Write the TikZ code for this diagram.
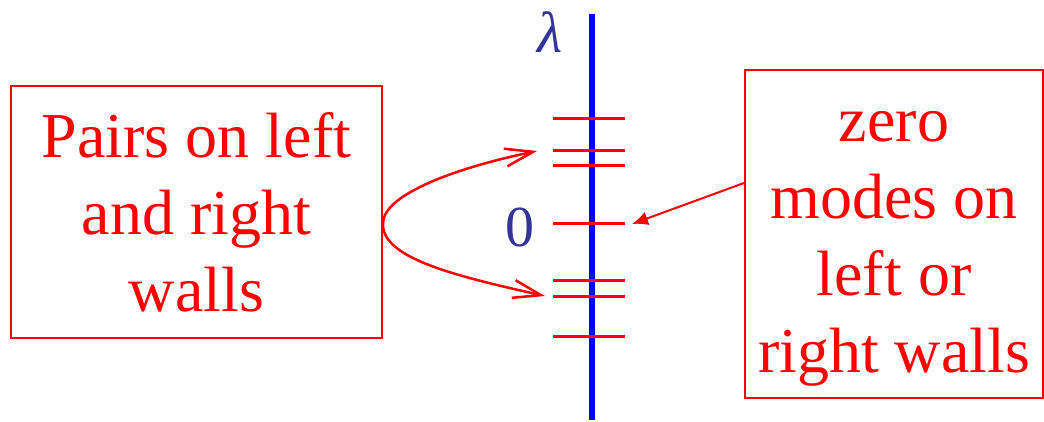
\documentclass[tikz,border=0pt]{standalone}
\usepackage{fontspec}
\setmainfont{Liberation Serif}
\usetikzlibrary{arrows.meta}
\definecolor{lamblue}{HTML}{333399}
\begin{document}
\begin{tikzpicture}[x=1pt, y=-1pt,
        every node/.style={font=\fontsize{64}{77}\selectfont},
        note/.style={draw=red, line width=2pt, text=red, align=center, inner sep=0pt},
        level/.style={draw=red, line width=3pt},
        axislbl/.style={text=lamblue, font=\fontsize{58}{60}\selectfont, inner sep=0pt}
    ]
        \useasboundingbox (0,0) rectangle (1044,422);
        \node[note, minimum width=371pt, minimum height=252pt] (pairs) at (196.5,212) {Pairs on left\\ and right\\ walls};
        \node[note, minimum width=298pt, minimum height=328pt, text height=290pt] (zero) at (894,234) {zero\\ modes on\\ left or\\ right walls};
        \draw[blue, line width=6pt] (592,14) -- (592,420);
        \foreach \y in {119,151,166,224,280,296,336}
            \draw[level] (553,\y) -- (625,\y);
        \node[axislbl] (lam) at (550,32) {\itshape λ};
        \node[axislbl] (origin) at (520,227) {0};
        \coordinate (up) at (537,151);
        \coordinate (down) at (545,296);
        \coordinate (zmode) at (632,224);
        \draw[red, line width=2.5pt, {Straight Barb[length=28pt,width=18pt]}-{Straight Barb[length=28pt,width=18pt]}] (up) .. controls (455,168) and (382,195) .. ([yshift=-12pt]pairs.east) .. controls (382,258) and (455,276) .. (down);
        \draw[red, line width=2pt, -{Latex[length=16pt,width=14pt]}] ([yshift=51pt]zero.west) -- (zmode);
    \end{tikzpicture}
\end{document}
